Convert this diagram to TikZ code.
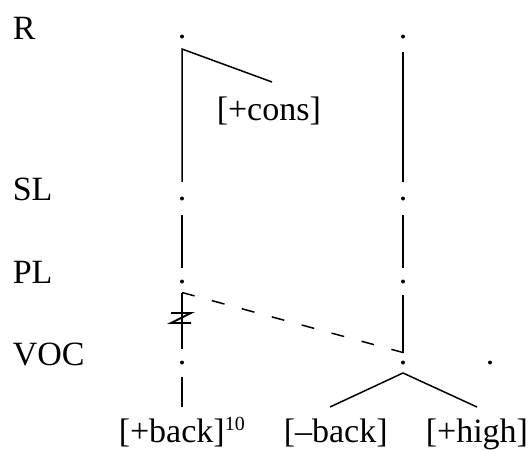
\documentclass[tikz,border=0pt]{standalone}
\usepackage{fontspec}
\setmainfont{Liberation Serif}
\usepackage{tikz}

\begin{document}
\begin{tikzpicture}[x=1pt, y=-1pt, line width=1.5pt, every node/.style = {font=\fontsize{34}{38}\selectfont, inner sep=0pt}, tier/.style = {anchor=base west}, feat/.style = {anchor=base west}, slot/.style = {circle, fill, minimum size=4pt, font=\tiny}]
\useasboundingbox (0,0) rectangle (531,450);
% tier names
\node[tier] (R) at (12,39.5) {R};
\node[tier] (SL) at (12,200) {SL};
\node[tier] (PL) at (12,283.5) {PL};
\node[tier] (VOC) at (12,365) {VOC};
% slots on each tier
\node[slot] (r1) at (182,36.5) {};
\node[slot] (r2) at (403,36.5) {};
\node[slot] (s1) at (182,198.5) {};
\node[slot] (s2) at (403,198.5) {};
\node[slot] (p1) at (182,281.5) {};
\node[slot] (p2) at (403,281.5) {};
\node[slot] (v1) at (182,362.5) {};
\node[slot] (v2) at (403,362.5) {};
\node[slot] (v3) at (490,362.5) {};
% features
\node[feat] (cons) at (216,120) {[+cons]};
\node[feat] (bk1) at (118,442) {[+back]\raisebox{12pt}{\fontsize{20}{22}\selectfont 10}};
\node[feat] (bk2) at (283,442) {[--back]};
\node[feat] (hi) at (425,442) {[+high]};
\coordinate (rtop) at (182,49);
\coordinate (consEnd) at (272,82);
\coordinate (ltop) at (182,292.5);
\coordinate (hook) at (403,352.5);
\coordinate (apex) at (403,373);
\coordinate (bkEnd) at (182,407);
\coordinate (bk2End) at (330,407);
\coordinate (hiEnd) at (477,407);
% association lines
\draw[shorten >=14pt] (consEnd) -- (rtop) -- (s1);
\draw[shorten <=13pt, shorten >=14pt] (r2) -- (s2);
\draw[shorten <=14pt, shorten >=11pt] (s1) -- (p1);
\draw[shorten <=14pt, shorten >=11pt] (s2) -- (p2);
\draw[shorten >=10.5pt] (ltop) -- (v1);
\draw[shorten <=11pt] (p2) -- (hook);
\draw[dash pattern=on 13pt off 18pt] (ltop) -- (hook);
\draw[line width=1.8pt] (171,313) -- (191,313) -- (171,323) -- (191,323);
\draw[shorten <=12pt] (v1) -- (bkEnd);
\draw (bk2End) -- (apex) -- (hiEnd);
\end{tikzpicture}
\end{document}
